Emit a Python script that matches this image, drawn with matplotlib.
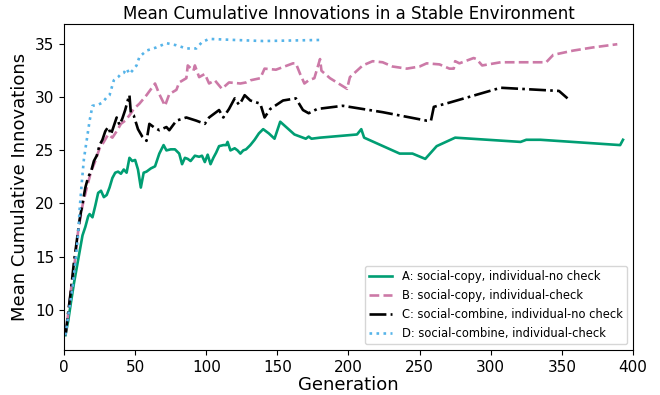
import matplotlib
matplotlib.use("Agg")
import matplotlib.pyplot as plt

# generation / mean cumulative innovations for each strategy
gen_a = [1, 3, 5, 7, 9, 11, 13, 15, 17, 18, 20, 22, 24, 26, 28, 30, 32, 34, 36, 38, 40,
         42, 44, 46, 48, 50, 52, 54, 56, 58, 61, 64, 67, 70, 72, 75, 78, 81, 83, 85, 87,
         89, 92, 95, 97, 99, 101, 103, 105, 107, 109, 112, 114, 115, 117, 120, 122, 124,
         126, 128, 131, 134, 137, 140, 144, 148, 152, 157, 162, 170, 172, 174, 180, 206,
         209, 211, 236, 245, 254, 262, 275, 321, 325, 335, 391, 393]
val_a = [7.6, 9.0, 10.8, 12.5, 14.0, 15.5, 17.0, 17.8, 18.8, 19.0, 18.7, 19.8, 21.0, 21.2,
         20.6, 20.8, 21.5, 22.4, 22.9, 23.0, 22.8, 23.2, 22.9, 24.3, 24.0, 24.1, 23.2, 21.5,
         22.9, 23.0, 23.3, 23.5, 24.7, 25.5, 25.0, 25.1, 25.1, 24.7, 23.7, 24.3, 24.2, 24.0,
         24.5, 24.4, 24.5, 23.9, 24.6, 23.7, 24.3, 24.8, 25.4, 25.5, 25.5, 25.8, 25.0, 25.2,
         25.0, 24.7, 25.0, 25.1, 25.5, 26.0, 26.6, 27.0, 26.6, 26.1, 27.7, 27.1, 26.5, 26.1,
         26.3, 26.1, 26.2, 26.5, 27.0, 26.2, 24.7, 24.7, 24.2, 25.4, 26.2, 25.8, 26.0, 26.0,
         25.5, 26.0]

gen_b = [1, 3, 5, 8, 10, 13, 16, 19, 22, 25, 28, 31, 34, 37, 40, 43, 46, 49, 53, 58, 64,
         67, 71, 74, 79, 81, 86, 87, 91, 92, 95, 99, 102, 106, 111, 116, 124, 128, 131,
         138, 141, 149, 161, 163, 166, 169, 172, 176, 180, 181, 187, 199, 201, 210, 217,
         224, 231, 241, 250, 255, 264, 271, 274, 275, 278, 288, 290, 294, 307, 339, 344,
         358, 372, 389]
val_b = [7.6, 9.7, 12.0, 15.0, 17.5, 19.8, 21.5, 23.0, 24.0, 25.2, 25.8, 26.5, 26.2, 26.8,
         27.5, 27.8, 28.3, 28.9, 29.4, 30.2, 31.3, 30.3, 29.2, 30.3, 30.7, 31.4, 31.8, 33.0,
         32.5, 33.0, 31.9, 32.2, 31.3, 31.6, 30.8, 31.4, 31.3, 31.4, 31.6, 31.8, 32.7, 32.6,
         33.2, 33.2, 32.2, 31.3, 31.6, 31.8, 33.6, 32.5, 31.8, 30.8, 31.9, 33.0, 33.4, 33.3,
         32.9, 32.7, 32.9, 33.2, 33.1, 32.7, 32.7, 33.4, 33.2, 33.7, 33.6, 33.0, 33.3, 33.3,
         34.0, 34.4, 34.7, 35.0]

gen_c = [1, 3, 5, 7, 9, 11, 13, 15, 17, 19, 21, 23, 25, 27, 29, 31, 33, 35, 37, 39, 41,
         43, 45, 46, 47, 49, 52, 55, 58, 60, 63, 67, 72, 74, 79, 86, 93, 99, 102, 109, 112,
         116, 120, 123, 125, 127, 131, 138, 141, 145, 154, 163, 168, 172, 178, 196, 224,
         255, 258, 260, 271, 307, 348, 354]
val_c = [7.6, 9.8, 12.0, 14.5, 16.5, 18.5, 20.0, 21.5, 22.5, 23.0, 24.0, 24.5, 25.5, 26.0,
         26.8, 27.2, 26.5, 27.3, 28.1, 27.4, 28.0, 28.8, 29.8, 30.2, 28.5, 28.3, 27.0, 26.3,
         25.9, 27.5, 27.2, 26.9, 27.2, 26.9, 27.8, 28.1, 27.8, 27.5, 28.1, 28.8, 28.1, 28.9,
         29.9, 29.3, 29.7, 30.2, 29.7, 29.4, 28.1, 28.9, 29.7, 29.9, 28.8, 28.5, 28.9, 29.2,
         28.6, 27.8, 27.8, 29.1, 29.5, 30.9, 30.6, 29.9]

gen_d = [1, 3, 6, 8, 10, 11, 12.5, 14, 16, 18, 20, 24, 27, 30, 32, 35, 38, 40, 42, 44, 46,
         48, 51, 53, 58, 65, 72, 79, 86, 93, 97, 102, 120, 140, 160, 180]
val_d = [7.6, 9.5, 12.1, 14.5, 17.2, 19.5, 22.0, 24.2, 26.0, 27.8, 29.2, 29.3, 29.5, 30.0,
         30.2, 31.6, 31.9, 32.2, 32.3, 32.7, 32.2, 32.5, 33.0, 33.8, 34.4, 34.7, 35.1, 34.9,
         34.6, 34.6, 35.2, 35.5, 35.4, 35.3, 35.35, 35.4]

labels = ["A: social-copy, individual-no check",
          "B: social-copy, individual-check",
          "C: social-combine, individual-no check",
          "D: social-combine, individual-check"]

fig, ax = plt.subplots(figsize=(6.6, 3.95), dpi=100)
fig.subplots_adjust(left=0.097, right=0.959, top=0.939, bottom=0.114)

ax.plot(gen_a, val_a, color="#009E73", linestyle="-", linewidth=1.9, label=labels[0])
ax.plot(gen_b, val_b, color="#CC79A7", linestyle="--", linewidth=1.9, label=labels[1])
ax.plot(gen_c, val_c, color="black", linestyle="-.", linewidth=1.9, label=labels[2])
ax.plot(gen_d, val_d, color="#56B4E9", linestyle=":", linewidth=1.9, label=labels[3])

ax.set_xlim(0, 400)
ax.set_title("Mean Cumulative Innovations in a Stable Environment", fontsize=12, pad=4)
ax.set_xlabel("Generation", fontsize=13, labelpad=1)
ax.set_ylabel("Mean Cumulative Innovations", fontsize=13, labelpad=4)
ax.tick_params(labelsize=11)
ax.legend(loc="lower right", fontsize=8.3)

fig.savefig("out.png", dpi=100)
